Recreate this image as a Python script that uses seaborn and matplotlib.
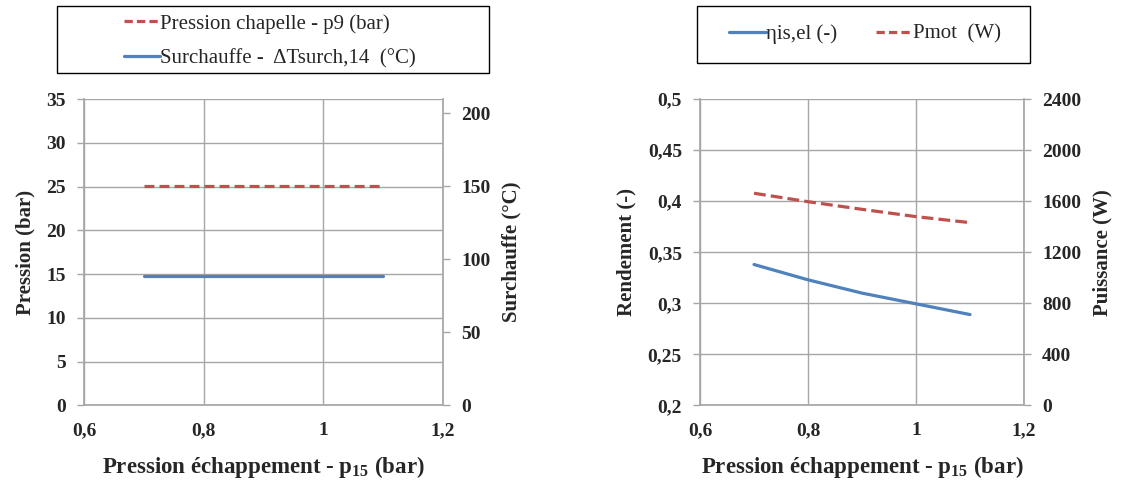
import pandas as pd
import matplotlib
matplotlib.use("Agg")
import matplotlib.pyplot as plt
import seaborn as sns
from matplotlib.lines import Line2D
from matplotlib.patches import Rectangle

# Data
p15 = [0.7, 0.8, 0.9, 1.0, 1.1]
p9_bar = [25.1, 25.1, 25.1, 25.1, 25.1]
surchauffe_c = [88.8, 88.8, 88.8, 88.8, 88.8]
eta_is_el = [0.338, 0.323, 0.310, 0.2995, 0.289]
pmot_w = [1662, 1596, 1536, 1479, 1432]

left_ticks = [0, 5, 10, 15, 20, 25, 30, 35]
surch_ticks = [0, 50, 100, 150, 200]
eta_ticks = [0.2, 0.25, 0.3, 0.35, 0.4, 0.45, 0.5]
pmot_ticks = [0, 400, 800, 1200, 1600, 2000, 2400]
x_ticks = [0.6, 0.8, 1.0, 1.2]

df = pd.DataFrame({"p15": p15, "p9": p9_bar, "surch": surchauffe_c,
                   "eta": eta_is_el, "pmot": pmot_w})

sns.set_theme(style="whitegrid")
plt.rcParams["font.family"] = ["Liberation Serif", "DejaVu Serif"]
plt.rcParams["mathtext.fontset"] = "custom"
plt.rcParams["mathtext.rm"] = "Liberation Serif"
plt.rcParams["mathtext.bf"] = "Liberation Serif:bold"

BLUE = "#4F81BD"
RED = "#C0504D"
GRID = "#A6A6A6"
LW = 2.3
TICK_FS = 14
YLAB_FS = 15
XLAB_FS = 16.5
LEG_FS = 15


def comma(v):
    return f"{v:g}".replace(".", ",")


def style_y(ax, ticks, ylim):
    ax.set_ylim(*ylim)
    ax.set_yticks(ticks)
    ax.set_yticklabels([comma(t) for t in ticks], fontsize=TICK_FS, fontweight="bold")
    ax.tick_params(axis="y", length=5, color=GRID, width=1, pad=8)


def right_only(ax):
    ax.grid(False)
    for s in ax.spines.values():
        s.set_visible(False)
    ax.spines["right"].set_visible(True)
    ax.spines["right"].set_color(GRID)
    ax.set_xlim(0.6, 1.2)


fig = plt.figure(figsize=(11.28, 4.83), dpi=100)
ax1 = fig.add_axes([0.0745, 0.1605, 0.3183, 0.6345])
ax3 = fig.add_axes([0.6206, 0.1605, 0.2872, 0.6345])

xlabel = r"Pression échappement - p$_{\mathbf{15}}$ (bar)"

for ax in (ax1, ax3):
    ax.set_facecolor("white")
    ax.set_xlim(0.6, 1.2)
    ax.set_xticks(x_ticks)
    ax.set_xticklabels([comma(t) for t in x_ticks], fontsize=TICK_FS, fontweight="bold")
    ax.tick_params(axis="x", length=6, color=GRID, width=1, pad=6)
    ax.grid(True, color=GRID, linewidth=1)
    for s in ax.spines.values():
        s.set_visible(False)
    for side in ("left", "bottom"):
        ax.spines[side].set_visible(True)
        ax.spines[side].set_color(GRID)
    ax.set_xlabel(xlabel, fontsize=XLAB_FS, fontweight="bold", labelpad=11)

# Left chart
sns.lineplot(data=df, x="p15", y="p9", ax=ax1, color=RED, linewidth=LW,
             linestyle=(0, (3.1, 1.6)))
style_y(ax1, left_ticks, (0, 35))
ax1.set_ylabel("Pression (bar)", fontsize=YLAB_FS, fontweight="bold", labelpad=8)

ax2 = ax1.twinx()
sns.lineplot(data=df, x="p15", y="surch", ax=ax2, color=BLUE, linewidth=LW)
style_y(ax2, surch_ticks, (0, 209.6))
right_only(ax2)
ax2.set_ylabel("Surchauffe (°C)", fontsize=YLAB_FS, fontweight="bold", labelpad=8)

# Right chart
sns.lineplot(data=df, x="p15", y="eta", ax=ax3, color=BLUE, linewidth=LW)
style_y(ax3, eta_ticks, (0.2, 0.5))
ax3.set_ylabel("Rendement (-)", fontsize=YLAB_FS, fontweight="bold", labelpad=8)

ax4 = ax3.twinx()
sns.lineplot(data=df, x="p15", y="pmot", ax=ax4, color=RED, linewidth=LW,
             linestyle=(0, (3.7, 1.6)))
style_y(ax4, pmot_ticks, (0, 2400))
right_only(ax4)
ax4.set_ylabel("Puissance (W)", fontsize=YLAB_FS, fontweight="bold", labelpad=8)

# Legends: frames drawn as rectangles, entries centred inside
h_red = Line2D([], [], color=RED, linewidth=LW, linestyle=(0, (2.6, 1.3)))
h_blue = Line2D([], [], color=BLUE, linewidth=LW)

for (x0, y0, w, h) in [(57, 6, 432, 67), (697, 6, 333, 57)]:
    fig.add_artist(Rectangle((x0 / 1128, 1 - (y0 + h) / 483), w / 1128, h / 483,
                             transform=fig.transFigure, fill=False,
                             edgecolor="black", linewidth=1))

fig.legend([h_red, h_blue],
           ["Pression chapelle - p9 (bar)", "Surchauffe -  ΔTsurch,14  (°C)"],
           loc="center", bbox_to_anchor=(270 / 1128, 1 - 41 / 483), ncol=1,
           fontsize=LEG_FS, frameon=False, handlelength=1.75,
           handletextpad=0.0, labelspacing=0.72, borderaxespad=0)

fig.legend([h_blue, h_red], ["ηis,el (-)", "Pmot  (W)"],
           loc="center", bbox_to_anchor=(865 / 1128, 1 - 34 / 483), ncol=2,
           fontsize=LEG_FS, frameon=False, handlelength=1.75,
           handletextpad=0.0, columnspacing=1.9, borderaxespad=0)

fig.savefig("out.png", dpi=100)
